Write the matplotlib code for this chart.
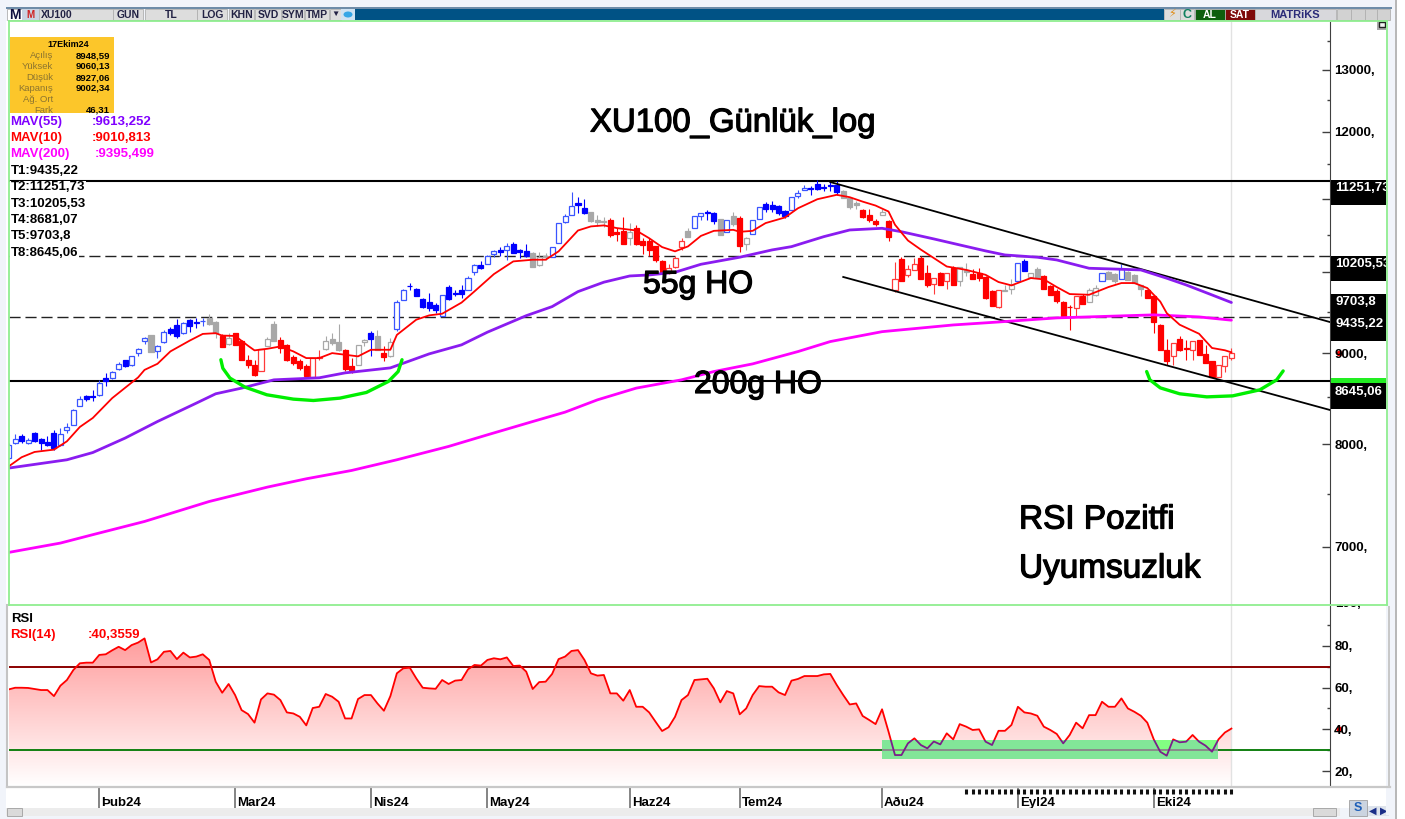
import numpy as np
import matplotlib
matplotlib.use("Agg")
import matplotlib.pyplot as plt
import matplotlib.patheffects as pe
from matplotlib.colors import LinearSegmentedColormap
from matplotlib.patches import Rectangle, Polygon, Ellipse
from matplotlib.transforms import ScaledTranslation

plt.rcParams['font.family'] = ['Liberation Sans', 'DejaVu Sans']

# daily candles, XU100
opens = [7857, 8011, 8079, 8011, 8115, 8052, 8021, 8115, 7994, 8143, 8204, 8405, 8518, 8510, 8528, 8715,
         8715, 8816, 8917, 8866, 9003, 9139, 9217, 9030, 9127, 9286, 9331, 9238, 9400, 9367, 9380, 9420,
         9367, 9209, 9111, 9238, 9150, 8925, 8866, 8800, 9088, 9347, 9158, 9103, 8956, 8913, 8858, 8725,
         8944, 9049, 9170, 9127, 9041, 8847, 8866, 9135, 9246, 9205, 9002, 8963, 9286, 9645, 9824, 9781,
         9655, 9625, 9584, 9450, 9808, 9731, 9766, 9774, 10007, 10087, 10104, 10241, 10296, 10287, 10370, 10287,
         10278, 10250, 10095, 10205, 10197, 10383, 10666, 10772, 10934, 10874, 10809, 10703, 10680, 10703, 10528, 10550,
         10450, 10588, 10414, 10414, 10339, 10149, 9985, 10060, 10325, 10550, 10588, 10749, 10809, 10795, 10712, 10532,
         10749, 10726, 10371, 10505, 10712, 10925, 10911, 10897, 10829, 10846, 11036, 11118, 11152, 11210, 11167, 11200,
         11200, 11105, 11007, 10934, 10837, 10772, 10680, 10763, 10680, 9774, 10175, 9963, 10029, 10184, 9985, 9850,
         9985, 9880, 10051, 9880, 10029, 9976, 9994, 9940, 9762, 9555, 9754, 9783, 9880, 10140, 9932, 10042,
         9949, 9816, 9753, 9625, 9563, 9543, 9697, 9625, 9710, 9880, 9998, 9976, 9905, 10007, 9963, 9829,
         9766, 9689, 9340, 9042, 8965, 9167, 9062, 9042, 9151, 8995, 8906, 8723, 8858, 8948.59]
highs = [8010, 8104, 8107, 8062, 8122, 8062, 8079, 8150, 8168, 8221, 8370, 8510, 8530, 8585, 8696, 8771,
         8790, 8893, 8925, 8971, 9061, 9197, 9217, 9100, 9278, 9310, 9408, 9367, 9412, 9420, 9420, 9469,
         9380, 9225, 9238, 9246, 9155, 8983, 8925, 9053, 9197, 9380, 9197, 9110, 8983, 8933, 8875, 8948,
         9041, 9208, 9238, 9347, 9049, 8944, 9092, 9166, 9266, 9278, 9080, 9177, 9640, 9780, 9858, 9800,
         9668, 9731, 9604, 9710, 9838, 9774, 9838, 9949, 10104, 10140, 10225, 10296, 10333, 10388, 10403, 10310,
         10365, 10260, 10260, 10250, 10333, 10657, 10781, 11094, 11031, 10992, 10818, 10772, 10740, 10726, 10588, 10735,
         10657, 10634, 10449, 10449, 10349, 10155, 10110, 10213, 10449, 10588, 10749, 10800, 10837, 10818, 10712, 10703,
         10818, 10758, 10472, 10693, 10888, 10948, 10971, 10911, 10833, 11031, 11127, 11200, 11176, 11273, 11215, 11234,
         11249, 11127, 11020, 10960, 10860, 10852, 10712, 10852, 10703, 10131, 10197, 10095, 10184, 10205, 10087, 9920,
         10007, 9994, 10073, 10064, 10117, 10038, 10051, 9945, 9770, 9766, 9838, 9906, 10117, 10170, 9994, 10060,
         9963, 9830, 9783, 9635, 9584, 9689, 9723, 9800, 9838, 9985, 10016, 9985, 10104, 10010, 9970, 9838,
         9770, 9710, 9345, 9167, 9120, 9206, 9159, 9147, 9155, 9093, 8910, 8867, 8964, 9060.13]
lows = [7850, 8004, 8011, 8004, 8021, 7942, 7976, 7942, 7976, 8115, 8204, 8400, 8455, 8455, 8518, 8625,
        8704, 8808, 8839, 8858, 8963, 9112, 9010, 8944, 9120, 9217, 9177, 9230, 9250, 9298, 9319, 9339,
        9177, 9072, 9100, 9100, 8925, 8828, 8740, 8800, 9080, 9139, 9002, 8906, 8866, 8808, 8725, 8725,
        8925, 9041, 9100, 9022, 8790, 8771, 8866, 9080, 8971, 9040, 8905, 8956, 9266, 9645, 9773, 9696,
        9541, 9502, 9482, 9450, 9646, 9689, 9668, 9766, 9963, 10042, 10104, 10197, 10213, 10160, 10250, 10187,
        10197, 10064, 10075, 10160, 10197, 10383, 10657, 10763, 10795, 10786, 10666, 10611, 10601, 10472, 10417, 10365,
        10361, 10361, 10241, 10213, 10131, 9985, 9975, 10052, 10287, 10472, 10588, 10703, 10703, 10643, 10495, 10532,
        10611, 10259, 10296, 10505, 10712, 10818, 10809, 10772, 10726, 10846, 11007, 11118, 11055, 11118, 11103, 11103,
        11055, 11007, 10852, 10852, 10726, 10666, 10611, 10763, 10417, 9740, 9887, 9932, 10029, 9909, 9808, 9723,
        9838, 9783, 9829, 9816, 9949, 9905, 9880, 9660, 9570, 9543, 9754, 9723, 9880, 10016, 9932, 9932,
        9783, 9702, 9604, 9441, 9280, 9441, 9592, 9625, 9700, 9880, 9905, 9860, 9905, 9895, 9860, 9689,
        9668, 9239, 9035, 8867, 8867, 9030, 8925, 8917, 8975, 8886, 8723, 8723, 8789, 8927.06]
closes = [7994, 8055, 8028, 8038, 8028, 8011, 7994, 7959, 8107, 8179, 8364, 8480, 8485, 8503, 8659, 8678,
          8782, 8877, 8855, 8963, 9053, 9185, 9010, 9080, 9258, 9246, 9209, 9359, 9319, 9359, 9388, 9347,
          9238, 9072, 9185, 9100, 8925, 8866, 8752, 9053, 9170, 9147, 9061, 8925, 8886, 8835, 8733, 8948,
          8952, 9147, 9119, 9034, 8816, 8808, 9092, 9158, 9166, 9041, 8952, 9131, 9624, 9773, 9816, 9696,
          9555, 9543, 9523, 9710, 9659, 9723, 9723, 9927, 10087, 10052, 10213, 10278, 10264, 10342, 10250, 10260,
          10205, 10064, 10197, 10197, 10333, 10657, 10749, 10902, 10911, 10795, 10680, 10666, 10666, 10495, 10510, 10375,
          10528, 10375, 10361, 10296, 10153, 10007, 10052, 10184, 10414, 10472, 10749, 10795, 10795, 10689, 10495, 10703,
          10648, 10348, 10459, 10693, 10888, 10855, 10850, 10795, 10758, 11031, 11080, 11152, 11138, 11138, 11152, 11186,
          11089, 11007, 10888, 10911, 10740, 10703, 10648, 10818, 10472, 9905, 9887, 10038, 10104, 9909, 9829, 9920,
          9838, 9994, 9829, 10064, 10007, 9905, 9920, 9668, 9570, 9766, 9766, 9838, 10117, 10016, 9994, 9932,
          9783, 9702, 9634, 9441, 9551, 9689, 9592, 9774, 9795, 9985, 9905, 9880, 10038, 9895, 9860, 9783,
          9668, 9368, 9035, 8906, 9120, 9035, 9050, 9147, 8976, 8886, 8723, 8867, 8964, 9002.34]

# candle colour state: b=blue, g=grey, r=red
signal = ("b"*22 + "g" + "b"*8 + "gg" + "r" + "g" + "r"*5 + "gg" + "r"*7 + "ggg" + "rr" + "gg" + "b" + "g" + "r" + "g"
          + "b"*21 + "ggg" + "b"*6 + "ggg" + "rrr" + "g" + "r"*8 + "g" + "b"*4 + "g" + "b" + "g" + "r" + "g"
          + "b"*14 + "ggg" + "rrr" + "g" + "r"*11 + "gg" + "r"*5 + "gg" + "bb" + "gg" + "r"*7 + "gg" + "b" + "gg"
          + "b" + "ggg" + "r"*14)

mav10_idx = [0, 2, 4, 7, 9, 11, 13, 16, 20, 21, 23, 25, 28, 30, 32, 33, 35, 37, 38, 40, 42, 44, 46, 48, 50, 52, 54,
             56, 59, 60, 63, 65, 67, 70, 72, 75, 78, 81, 83, 85, 88, 90, 92, 94, 97, 99, 101, 103, 105, 107, 109,
             112, 113, 115, 117, 120, 122, 125, 128, 130, 132, 134, 136, 137, 139, 141, 143, 145, 148, 151, 153,
             155, 158, 160, 162, 164, 167, 170, 172, 174, 176, 178, 179, 181, 184, 186, 188, 189]
mav10 = [7771, 7864, 7918, 7942, 8028, 8179, 8275, 8491, 8722, 8808, 8878, 9022, 9150, 9229, 9238, 9209, 9205, 9088,
         9034, 9053, 9080, 9022, 8944, 8944, 9002, 8983, 8964, 9041, 9041, 9217, 9401, 9454, 9474, 9612, 9753, 9974,
         10140, 10162, 10162, 10273, 10555, 10611, 10625, 10588, 10555, 10450, 10330, 10273, 10339, 10481, 10550,
         10564, 10537, 10550, 10657, 10735, 10864, 10992, 11055, 11021, 10958, 10902, 10818, 10634, 10419, 10296,
         10184, 10073, 10029, 9965, 9872, 9829, 9923, 9906, 9808, 9719, 9710, 9808, 9859, 9859, 9795, 9625, 9482,
         9340, 9231, 9062, 9035, 9011]
mav55_idx = [0, 9, 13, 18, 23, 29, 32, 36, 41, 48, 52, 59, 65, 70, 74, 80, 84, 88, 92, 96, 99, 103, 107, 113, 118,
             121, 126, 130, 135, 138, 143, 147, 151, 154, 159, 162, 167, 172, 175, 179, 182, 186, 189]
mav55 = [7754, 7838, 7912, 8062, 8237, 8436, 8539, 8602, 8695, 8718, 8774, 8831, 8993, 9099, 9250, 9450, 9562, 9750,
         9870, 9950, 9963, 9998, 10102, 10195, 10292, 10336, 10471, 10562, 10585, 10538, 10440, 10359, 10279, 10225,
         10195, 10159, 10050, 10037, 10028, 9921, 9835, 9708, 9613]
mav200_idx = [0, 8, 13, 21, 31, 40, 46, 53, 60, 68, 74, 81, 86, 91, 97, 104, 109, 115, 122, 127, 135, 146, 153, 162,
              177, 184, 189]
mav200 = [6950, 7035, 7112, 7235, 7425, 7565, 7647, 7730, 7838, 7975, 8096, 8237, 8338, 8472, 8602, 8695, 8789, 8877,
          9020, 9138, 9256, 9337, 9373, 9423, 9460, 9435, 9395]

solid_levels = [11251.73, 8681.07]
dashed_levels = [10205.53, 9435.22]
upper_idx = [127, 204.2]
upper_val = [11240, 9373]
lower_idx = [129, 204.2]
lower_val = [9937, 8362]

arc_left_idx = [32.8, 33.1, 34.2, 36.5, 39.9, 44.0, 47.1, 51.2, 55.3, 58.7, 60.2, 60.8]
arc_left_val = [8925, 8827, 8715, 8614, 8528, 8480, 8465, 8491, 8554, 8677, 8789, 8925]
arc_right_idx = [175.9, 176.4, 178, 181, 185.2, 189.2, 193.4, 196, 197]
arc_right_val = [8789, 8695, 8605, 8539, 8505, 8516, 8583, 8695, 8796]

price_ticks = [7000, 8000, 9000, 10000, 11000, 12000, 13000]
price_tick_labels = ["7000,", "8000,", "9000,", "", "", "12000,", "13000,"]  # 10000 and 11000 sit under the flags
price_minor = [7500, 8500, 9500, 10500, 11500, 12500, 13500]

rsi = [59.1, 59.9, 59.9, 59.8, 59.3, 58.8, 58.8, 55.9, 60.9, 63.6, 68.4, 71.6, 71.9, 71.9, 75.6, 75.9, 77.8, 79.5,
       77.9, 80.3, 81.5, 83.5, 72.0, 73.5, 77.1, 77.5, 73.6, 76.7, 74.4, 74.8, 75.9, 73.2, 62.8, 57.5, 61.7, 56.4,
       49.2, 47.3, 43.2, 54.3, 57.2, 56.6, 54.0, 48.1, 47.6, 46.0, 41.9, 50.2, 50.8, 56.9, 55.6, 53.2, 45.2, 45.2,
       54.5, 56.4, 56.4, 52.4, 48.9, 55.9, 66.8, 69.2, 69.5, 64.4, 59.9, 59.6, 59.4, 63.6, 61.7, 63.3, 63.6,
       68.7, 70.8, 70.5, 73.2, 74.0, 73.5, 74.4, 70.3, 70.5, 67.6, 59.3, 62.6, 62.8, 66.5, 73.6, 74.8, 77.5, 77.9,
       73.2, 66.8, 65.7, 66.0, 57.2, 57.2, 53.7, 58.8, 50.8, 50.8, 48.1, 43.6, 39.2, 41.0, 46.0, 54.0, 56.4, 63.6,
       63.9, 64.2, 59.6, 52.9, 58.3, 57.2, 47.2, 50.0, 56.4, 60.7, 60.4, 60.4, 57.7, 56.4, 63.3, 64.1, 65.5, 65.5,
       65.5, 66.3, 66.5, 61.2, 56.4, 51.9, 52.4, 46.4, 44.5, 42.5,
       49.6, 38.9, 27.7, 27.7, 33.3, 35.7, 32.5, 30.9, 34.2, 32.8, 38.1, 35.2, 42.5, 41.3, 39.7, 40.0, 34.1, 32.5,
       39.3, 39.3, 42.1, 50.8, 48.1, 47.6, 46.5, 41.3, 39.7, 37.8, 33.3, 37.3, 43.2, 40.5, 46.8, 46.8, 53.2, 50.8,
       50.8, 54.8, 50.0, 48.4, 46.5, 43.2, 35.2, 29.3, 27.4, 35.2, 33.8, 34.1, 37.3, 34.1, 32.2, 29.3, 35.2, 38.5,
       40.36]
rsi_high = 70
rsi_low = 30
rsi_box_idx = [135, 187]
rsi_box_val = [25.8, 34.9]
rsi_ticks = [20, 40, 60, 80]
rsi_minor = [30, 50, 70, 90]

month_idx = [14, 35, 56, 74, 96, 113, 135, 156, 177]
month_labels = ["Þub24", "Mar24", "Nis24", "May24", "Haz24", "Tem24", "Aðu24", "Eyl24", "Eki24"]
marked_days = np.arange(148, 190)

info_labels = ["Açılış", "Yüksek", "Düşük", "Kapanış", "Ağ. Ort", "Fark"]
info_values = ["8948,59", "9060,13", "8927,06", "9002,34", "", "46,31"]
legend_rows = [("MAV(55)", ":9613,252", "#8000FF", 92), ("MAV(10)", ":9010,813", "#FF0000", 92),
               ("MAV(200)", ":9395,499", "#FF00FF", 95)]
t_rows = ["T1:9435,22", "T2:11251,73", "T3:10205,53", "T4:8681,07", "T5:9703,8", "T8:8645,06"]

assert len(opens) == len(highs) == len(lows) == len(closes) == len(signal) == len(rsi) == 190

W, H = 1405, 819
fig = plt.figure(figsize=(W / 100, H / 100), dpi=100, facecolor="#F1F4FA")


def px_axes(left, top, right, bottom):
    return fig.add_axes([left / W, 1 - bottom / H, (right - left) / W, (bottom - top) / H])


# white page behind the panels, scales included
back = fig.add_axes([0, 0, 1, 1], zorder=-1)
back.set_xlim(0, W)
back.set_ylim(H, 0)
back.axis("off")
back.add_patch(Rectangle((6, 21), 1384, 787, facecolor="white", edgecolor="none"))

ax = px_axes(9, 22, 1330, 604)
ax_rsi = px_axes(9, 606, 1330, 786)
over = fig.add_axes([0, 0, 1, 1], zorder=10)
over.set_xlim(0, W)
over.set_ylim(H, 0)
over.axis("off")
over.patch.set_alpha(0)

idx = np.arange(len(closes))
x_range = (0.05, 204.24)

# price panel
ax.set_yscale("log")
ax.set_xlim(*x_range)
ax.set_ylim(6500, 13835)
ax.axvline(189, color="#E2E2E2", lw=1, zorder=1)

for lvl in solid_levels:
    ax.axhline(lvl, color="black", lw=1.5, zorder=2)
for lvl in dashed_levels:
    ax.axhline(lvl, color="#222222", lw=1, dashes=(8, 3.5), zorder=2)

edge_col = {"b": "#0000FF", "r": "#FF0000", "g": "#A8A8A8"}
hollow_col = {"b": "#3A55FF", "r": "#FF3A3A", "g": "#A8A8A8"}
for i in idx:
    o, h, l, c, s = opens[i], highs[i], lows[i], closes[i], signal[i]
    up = c >= o
    col = hollow_col[s] if up else edge_col[s]
    ax.vlines(i, l, h, color=col, lw=0.8, zorder=3)
    ax.bar(i, abs(c - o), bottom=min(o, c), width=0.78, facecolor="white" if up else col,
           edgecolor=col, linewidth=0.9, zorder=4)

ax.plot(upper_idx, upper_val, color="black", lw=1.3, zorder=5)
ax.plot(lower_idx, lower_val, color="black", lw=1.3, zorder=5)
ax.plot(mav200_idx, mav200, color="#FF00FF", lw=2, zorder=6, solid_capstyle="round")
ax.plot(mav55_idx, mav55, color="#8A1CF0", lw=2, zorder=6, solid_capstyle="round")
ax.plot(mav10_idx, mav10, color="#FF0000", lw=1.3, zorder=7)
for a_i, a_v in ((arc_left_idx, arc_left_val), (arc_right_idx, arc_right_val)):
    ax.plot(a_i, a_v, color="#00EE00", lw=2.4, zorder=8, solid_joinstyle="round", solid_capstyle="round")

for s in ("top", "left", "bottom"):
    ax.spines[s].set_visible(False)
ax.spines["right"].set_color("#404040")
ax.set_xticks([])
ax.yaxis.tick_right()
ax.set_yticks(price_ticks)
ax.set_yticklabels(price_tick_labels, fontsize=9.5, fontweight="bold")
ax.set_yticks(price_minor, minor=True)
ax.set_yticklabels([], minor=True)
ax.patch.set_alpha(1)
ax.tick_params(axis="y", which="major", direction="in", length=6, width=1, color="#404040", pad=3)
ax.tick_params(axis="y", which="minor", direction="in", length=2.5, width=1, color="#404040")
ax.plot([1.0065], [9000], "o", color="red", ms=3.2, transform=ax.get_yaxis_transform(), clip_on=False, zorder=1)

heavy = [pe.withStroke(linewidth=0.9, foreground="black")]
chart_font = dict(family=["Liberation Sans"], color="black", va="center", path_effects=heavy)
over.text(590, 123, "XU100_Günlük_log", fontsize=23.7, **chart_font)
over.text(643, 285, "55g HO", fontsize=23, **chart_font)
over.text(694, 385, "200g HO", fontsize=23, **chart_font)
over.text(1019, 520, "RSI Pozitfi", fontsize=24, **chart_font)
over.text(1019, 569, "Uyumsuzluk", fontsize=24, **chart_font)

# rsi panel
ax_rsi.set_xlim(*x_range)
ax_rsi.set_ylim(12.9, 99)
n_rows = 256
grad = np.linspace(0, 1, n_rows).reshape(-1, 1)
cmap = LinearSegmentedColormap.from_list("rsi_fill", ["#FFFFFF", "#FF9C9C"])
im = ax_rsi.imshow(grad, origin="lower", aspect="auto", cmap=cmap, extent=(0, 189, 12.9, 84), zorder=1)
poly_pts = np.vstack([np.column_stack([idx, rsi]), [[189, 12.9], [0, 12.9]]])
poly = Polygon(poly_pts, closed=True, transform=ax_rsi.transData, facecolor="none", edgecolor="none")
ax_rsi.add_patch(poly)
im.set_clip_path(poly)
ax_rsi.set_xlim(*x_range)
ax_rsi.set_ylim(12.9, 99)
ax_rsi.axvline(189, color="#E2E2E2", lw=1, zorder=1)

ax_rsi.axhline(rsi_high, color="#8B0000", lw=1.4, zorder=3)
ax_rsi.axhline(rsi_low, color="#118011", lw=1.4, zorder=3)
ax_rsi.plot(idx, rsi, color="#FF0000", lw=1.3, zorder=4)

box_w = rsi_box_idx[1] - rsi_box_idx[0]
box_h = rsi_box_val[1] - rsi_box_val[0]
ax_rsi.add_patch(Rectangle((rsi_box_idx[0], rsi_box_val[0]), box_w, box_h, facecolor="#82FF82", edgecolor="none", zorder=5))
box_low = Rectangle((rsi_box_idx[0], rsi_box_val[0]), box_w, box_h, facecolor="#82E698", edgecolor="none", zorder=5.1)
ax_rsi.add_patch(box_low)
box_low.set_clip_path(poly)
box_clip = Rectangle((rsi_box_idx[0], rsi_box_val[0]), box_w, box_h, transform=ax_rsi.transData, facecolor="none", edgecolor="none")
ax_rsi.add_patch(box_clip)
line_in_box, = ax_rsi.plot(idx, rsi, color="#7A1F8A", lw=1.3, zorder=6)
line_in_box.set_clip_path(box_clip)
low_in_box = ax_rsi.axhline(rsi_low, color="#8A8A8A", lw=1.4, zorder=5.5)
low_in_box.set_clip_path(box_clip)

for s in ("top", "left", "bottom"):
    ax_rsi.spines[s].set_visible(False)
ax_rsi.spines["right"].set_color("#404040")
ax_rsi.yaxis.tick_right()
ax_rsi.set_yticks(rsi_ticks)
ax_rsi.set_yticklabels([f"{v}," for v in rsi_ticks], fontsize=9.5, fontweight="bold")
ax_rsi.set_yticks(rsi_minor, minor=True)
ax_rsi.set_yticklabels([], minor=True)
ax_rsi.tick_params(axis="y", which="major", direction="in", length=6, width=1, color="#404040", pad=3)
ax_rsi.tick_params(axis="y", which="minor", direction="in", length=2.5, width=1, color="#404040")
ax_rsi.plot([1.0065], [40.36], "o", color="red", ms=3.2, transform=ax_rsi.get_yaxis_transform(), clip_on=False, zorder=1)

ax_rsi.set_xticks(month_idx)
ax_rsi.set_xticklabels(month_labels, fontsize=9.5, fontweight="bold")
ax_rsi.tick_params(axis="x", direction="out", length=16, width=1.2, color="#707070", pad=-8)
shift = ScaledTranslation(2 / 100, 0, fig.dpi_scale_trans)
for lab in ax_rsi.get_xticklabels():
    lab.set_ha("left")
    lab.set_transform(lab.get_transform() + shift)
ax_rsi.vlines(marked_days, -0.044, -0.017, color="#111111", lw=2.2, transform=ax_rsi.get_xaxis_transform(), clip_on=False)

ax_rsi.text(0.0017, 0.925, "RSI", fontsize=9.5, fontweight="bold", transform=ax_rsi.transAxes, va="center")
ax_rsi.text(0.001, 0.84, "RSI(14)", fontsize=9.5, fontweight="bold", color="red", transform=ax_rsi.transAxes, va="center")
ax_rsi.text(0.0595, 0.84, ":40,3559", fontsize=9.5, fontweight="bold", color="red", transform=ax_rsi.transAxes, va="center")


# window chrome
def rect(x0, y0, x1, y1, color, z=1, **kw):
    over.add_patch(Rectangle((x0, y0), x1 - x0, y1 - y0, facecolor=color, edgecolor=kw.pop("ec", "none"),
                             linewidth=kw.pop("lw", 0.6), zorder=z, **kw))


def button(x0, x1, label, color="#DDDDDD", tc="#222244", size=7.5, y0=9, y1=20):
    rect(x0, y0, x1, y1, color, z=2, ec="#B0B0B0")
    over.text((x0 + x1) / 2, (y0 + y1) / 2 + 0.3, label, color=tc, fontsize=size, fontweight="bold", ha="center",
              va="center", zorder=3)


rect(355, 8, 1164, 20, "#005285")
rect(6, 7, 1392, 9, "#6E8CA8")
button(7, 22, "M", color="white", tc="#101040", size=10)
rect(22, 9, 39, 20, "#C9D3E2", z=2)
over.text(30, 14.5, "M", color="#D02020", fontsize=7, fontweight="bold", ha="center", va="center", zorder=3)
button(39, 113, "", color="#DDDDDD")
over.text(41, 14.5, "XU100", color="#222244", fontsize=7.5, fontweight="bold", va="center", zorder=3)
for x0, x1, name in ((113, 143, "GUN"), (145, 197, "TL"), (197, 227, "LOG"), (229, 254, "KHN"), (255, 281, "SVD"),
                     (282, 304, "SYM"), (305, 329, "TMP")):
    button(x0, x1, name)
button(330, 341, "▼", size=6)
rect(341, 9, 355, 20, "#CFE2F2", z=2)
over.add_patch(Ellipse((348, 14.5), 9, 6, facecolor="#35A6E6", edgecolor="none", zorder=3))
button(1164, 1180, "", color="#DDDDDD")
over.text(1172, 14.5, "⚡", color="#E08A10", fontsize=8, ha="center", va="center", zorder=3, family=["DejaVu Sans"])
button(1180, 1194, "C", tc="#108060", size=9)
button(1195, 1225, "AL", color="#0E5E0E", tc="white", size=7.5)
button(1225, 1255, "SAT", color="#7E0A0A", tc="white", size=7.5)
button(1255, 1336, "MATRiKS", color="#D8D8DC", tc="#2A2A78", size=8)
for x0, x1 in ((1337, 1351), (1351, 1365), (1365, 1377), (1377, 1390)):
    button(x0, x1, "", color="#D2D2D2")
rect(1377, 20, 1387, 30, "#A8A8A8", z=4)
rect(1379, 22, 1385, 27, "#F4F4F4", z=5, ec="#202020", lw=1.0)

# value flags on the price scale
for y0, y1 in ((180, 205), (256, 281), (294, 341), (383, 409)):
    rect(1331, y0, 1386, y1, "black", z=4)
rect(1331, 378, 1386, 383, "#22EE22", z=4)
flag_texts = [(188, "11251,73"), (264, "10205,53"), (302, "9703,8"), (324, "9435,22"), (392, "8645,06")]
for y_f, s_f in flag_texts:
    over.text(1335, y_f, s_f, color="white", fontsize=9.5, fontweight="bold", va="center", zorder=5)

# rsi 100 label peeks out from under the panel edge
over.text(1335, 604, "100,", color="black", fontsize=9.5, fontweight="bold", va="center", zorder=3)
rect(1331, 590, 1386, 605, "white", z=3.5)

# frames and scrollbars
rect(1386.3, 21, 1396, 815, "#F1F4FA", z=6)
rect(1395, 0, 1397, 819, "#B8B8B8", z=6.1)
rect(1397, 0, W, H, "white", z=6.1)
over.plot([8.5, 8.5], [21, 605], color="#90EE90", lw=1.3, zorder=7)
over.plot([8.5, 1387], [21, 21], color="#90EE90", lw=1.3, zorder=7)
over.plot([8.5, 1387], [605, 605], color="#90EE90", lw=1.3, zorder=7)
over.plot([1387, 1387], [21, 605], color="#90EE90", lw=1.3, zorder=7)
over.plot([6.5, 6.5], [605, 787], color="#C4C4C4", lw=1.5, zorder=7)
over.plot([6.5, 1390], [787, 787], color="#C8C8C8", lw=1.6, zorder=7)
rect(1388, 606, 1390, 787, "#C8C8C8", z=7)
rect(6, 808, 1340, 816, "#ECECEC", z=2)
rect(7, 808, 22, 816, "#DADADA", z=3, ec="#A0A0A0")
rect(1313, 808, 1336, 816, "#DADADA", z=3, ec="#A0A0A0")
rect(1349, 800, 1367, 816, "#CBD4E0", z=3, ec="#A0A0A0")
over.text(1358, 808, "S", color="#1E5FB8", fontsize=9, fontweight="bold", ha="center", va="center", zorder=4)
rect(1368, 806, 1389, 816, "#DDE3EC", z=3)
over.text(1373, 811, "◀", color="#1A2E88", fontsize=7, ha="center", va="center", zorder=4, family=["DejaVu Sans"])
over.text(1384, 811, "▶", color="#1A2E88", fontsize=7, ha="center", va="center", zorder=4, family=["DejaVu Sans"])

# info box and legend
rect(10, 37, 114, 113, "#FCC62A", z=2)
over.text(68, 44.5, "17Ekim24", fontsize=6.5, fontweight="bold", ha="center", va="center", zorder=3)
for k, (lab, val) in enumerate(zip(info_labels, info_values)):
    y_k = 55.5 + 11 * k
    over.text(53, y_k, lab, fontsize=6.8, color="#8C7430", ha="right", va="center", zorder=3)
    over.text(110, y_k, val, fontsize=6.8, fontweight="bold", ha="right", va="center", zorder=3)
for k, (name, val, col, x_val) in enumerate(legend_rows):
    y_k = 122 + 16.2 * k
    over.text(10, y_k, name, color=col, fontsize=9.5, fontweight="bold", va="center", zorder=3)
    over.text(x_val, y_k, val, color=col, fontsize=9.5, fontweight="bold", va="center", zorder=3)
for k, row in enumerate(t_rows):
    over.text(11, 171 + 16.3 * k, row, color="black", fontsize=9.5, fontweight="bold", va="center", zorder=3,
              bbox=dict(facecolor="white", edgecolor="none", pad=0.6))

fig.savefig("out.png", dpi=100, facecolor=fig.get_facecolor())
